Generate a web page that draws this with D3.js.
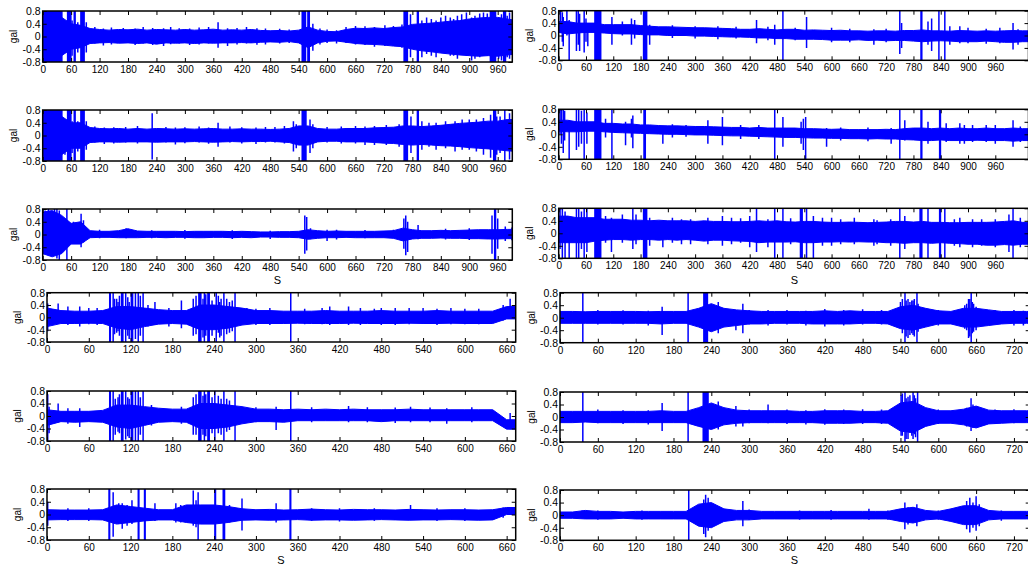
<!DOCTYPE html>
<html><head><meta charset="utf-8">
<script src="https://cdn.jsdelivr.net/npm/d3@7"></script>
<style>body{margin:0;background:#fff}svg{display:block}text{font-family:"Liberation Sans",Arial,sans-serif}</style>
</head><body><svg id="c" width="1028" height="567"></svg>
<script>
// ---- data: envelopes sampled every 20 s (upper/lower, gal), spikes [t,hi,lo], saturated bursts [t0,t1,hi,lo]
const STEP = 20;
const xTicksLong = [0,60,120,180,240,300,360,420,480,540,600,660,720,780,840,900,960];
const xTicks660 = [0,60,120,180,240,300,360,420,480,540,600,660];
const xTicks720 = [0,60,120,180,240,300,360,420,480,540,600,660,720];
const yTicks = [-0.8,-0.4,0,0.4,0.8];
const yLabels = ["-0.8","-0.4","0","0.4","0.8"];

// row 1 left
const A_up = [0.6,0.7,0.6,0.4,0.35,0.25,0.22,0.2,0.22,0.21,0.23,0.2,0.22,0.21,0.2,0.22,0.2,0.21,0.23,0.2,0.21,0.2,0.22,0.19,0.18,0.19,0.17,0.2,0.3,0.2,0.16,0.15,0.22,0.26,0.25,0.27,0.25,0.28,0.3,0.38,0.4,0.42,0.45,0.48,0.5,0.55,0.58,0.6,0.6,0.55,0.5];
const A_lo = [-0.6,-0.7,-0.6,-0.4,-0.35,-0.22,-0.2,-0.19,-0.21,-0.2,-0.22,-0.2,-0.24,-0.2,-0.21,-0.2,-0.22,-0.2,-0.21,-0.2,-0.2,-0.19,-0.2,-0.18,-0.17,-0.18,-0.16,-0.2,-0.35,-0.2,-0.15,-0.14,-0.18,-0.22,-0.24,-0.25,-0.27,-0.3,-0.32,-0.4,-0.45,-0.48,-0.52,-0.55,-0.58,-0.6,-0.62,-0.6,-0.62,-0.58,-0.55];
const A_blk = [[0,42,0.8,-0.8],[51,61,0.8,-0.8],[65,70,0.8,-0.8],[79,89,0.8,-0.8],[546,556,0.8,-0.8],[558,564,0.8,-0.8],[761,771,0.8,-0.8],[789,794,0.8,-0.8],[943,957,0.8,-0.8],[971,978,0.8,-0.8]];
const A_spk = [[47,0.45,-0.5],[62,0.5,-0.6],[74,0.45,-0.5],[92,0.45,-0.5],[110,0.3,-0.22],[128,0.25,-0.28],[145,0.28,-0.25],[170,0.27,-0.2],[195,0.25,-0.27],[212,0.3,-0.22],[232,0.27,-0.27],[255,0.26,-0.3],[270,0.3,-0.24],[288,0.26,-0.22],[310,0.25,-0.27],[330,0.28,-0.25],[350,0.3,-0.22],[370,0.45,-0.35],[390,0.26,-0.3],[410,0.27,-0.25],[430,0.3,-0.22],[452,0.26,-0.26],[470,0.25,-0.25],[500,0.24,-0.22],[520,0.22,-0.2],[570,0.4,-0.45],[585,0.25,-0.25],[600,0.22,-0.2],[620,0.2,-0.22],[640,0.3,-0.2],[660,0.33,-0.25],[680,0.32,-0.27],[700,0.3,-0.32],[722,0.35,-0.3],[740,0.33,-0.3],[758,0.38,-0.35],[776,0.7,-0.65],[800,0.5,-0.65],[810,0.6,-0.55],[820,0.55,-0.6],[830,0.5,-0.65],[840,0.6,-0.5],[850,0.65,-0.55],[860,0.6,-0.6],[867,0.55,-0.6],[875,0.65,-0.7],[884,0.7,-0.55],[894,0.75,-0.6],[905,0.6,-0.75],[912,0.65,-0.7],[922,0.72,-0.65],[930,0.75,-0.55],[938,0.72,-0.6],[962,0.6,-0.7],[968,0.7,-0.75],[980,0.65,-0.65],[985,0.75,-0.7]];

// row 2 left
const C_up = [0.6,0.7,0.6,0.4,0.4,0.25,0.22,0.21,0.22,0.2,0.22,0.2,0.22,0.21,0.2,0.21,0.2,0.21,0.22,0.2,0.2,0.21,0.2,0.2,0.19,0.2,0.22,0.3,0.3,0.22,0.2,0.2,0.22,0.22,0.22,0.24,0.25,0.26,0.3,0.3,0.28,0.3,0.32,0.35,0.38,0.4,0.42,0.45,0.45,0.5,0.5];
const C_lo = [-0.6,-0.7,-0.6,-0.4,-0.4,-0.22,-0.2,-0.2,-0.21,-0.2,-0.2,-0.2,-0.21,-0.2,-0.2,-0.2,-0.19,-0.2,-0.21,-0.2,-0.19,-0.2,-0.19,-0.19,-0.18,-0.2,-0.22,-0.3,-0.3,-0.2,-0.18,-0.18,-0.2,-0.2,-0.2,-0.22,-0.24,-0.25,-0.28,-0.3,-0.28,-0.3,-0.32,-0.33,-0.35,-0.38,-0.4,-0.42,-0.45,-0.48,-0.5];
const C_blk = [[0,42,0.8,-0.8],[51,61,0.8,-0.8],[65,70,0.8,-0.8],[79,89,0.8,-0.8],[546,557,0.8,-0.8],[761,771,0.8,-0.8],[789,794,0.8,-0.8],[950,957,0.8,-0.8]];
const C_spk = [[47,0.5,-0.6],[62,0.45,-0.55],[74,0.45,-0.5],[92,0.45,-0.45],[110,0.28,-0.22],[130,0.25,-0.27],[150,0.26,-0.25],[175,0.27,-0.22],[200,0.3,-0.25],[231,0.7,-0.75],[260,0.27,-0.22],[280,0.25,-0.28],[300,0.26,-0.24],[330,0.28,-0.22],[350,0.25,-0.26],[370,0.4,-0.35],[395,0.28,-0.22],[420,0.26,-0.25],[450,0.25,-0.27],[470,0.27,-0.22],[490,0.27,-0.22],[510,0.3,-0.25],[529,0.45,-0.5],[535,0.35,-0.4],[564,0.5,-0.55],[570,0.35,-0.4],[600,0.27,-0.22],[630,0.28,-0.25],[660,0.3,-0.25],[680,0.28,-0.3],[700,0.3,-0.3],[725,0.33,-0.3],[752,0.35,-0.35],[777,0.6,-0.55],[800,0.45,-0.45],[815,0.4,-0.35],[830,0.4,-0.45],[850,0.45,-0.4],[870,0.45,-0.5],[885,0.5,-0.45],[900,0.5,-0.45],[915,0.5,-0.5],[930,0.55,-0.6],[945,0.65,-0.7],[958,0.6,-0.6],[965,0.6,-0.55],[975,0.8,-0.8],[985,0.7,-0.75]];

// row 3 left
const E_up = [0.7,0.75,0.6,0.35,0.4,0.12,0.1,0.1,0.12,0.18,0.11,0.1,0.1,0.1,0.1,0.09,0.1,0.1,0.1,0.1,0.09,0.1,0.09,0.08,0.08,0.09,0.09,0.1,0.15,0.12,0.1,0.11,0.1,0.1,0.1,0.1,0.11,0.12,0.2,0.15,0.12,0.12,0.13,0.12,0.13,0.14,0.15,0.15,0.15,0.16,0.16];
const E_lo = [-0.6,-0.7,-0.6,-0.3,-0.3,-0.1,-0.09,-0.09,-0.1,-0.1,-0.1,-0.09,-0.09,-0.1,-0.09,-0.09,-0.1,-0.1,-0.09,-0.09,-0.1,-0.09,-0.1,-0.08,-0.08,-0.09,-0.09,-0.1,-0.15,-0.12,-0.1,-0.1,-0.09,-0.1,-0.1,-0.1,-0.1,-0.12,-0.2,-0.14,-0.12,-0.12,-0.11,-0.12,-0.12,-0.13,-0.13,-0.14,-0.14,-0.13,-0.13];
const E_blk = [[952,957,0.8,-0.8]];
const E_spk = [[5,0.75,-0.55],[12,0.8,-0.65],[18,0.7,-0.5],[25,0.8,-0.65],[30,0.8,-0.75],[35,0.75,-0.8],[40,0.4,-0.4],[51,0.8,-0.8],[65,0.4,-0.3],[81,0.65,-0.4],[86,0.45,-0.25],[120,0.15,-0.12],[176,0.2,-0.12],[230,0.13,-0.12],[300,0.14,-0.13],[400,0.13,-0.14],[480,0.12,-0.14],[553,0.6,-0.6],[557,0.55,-0.5],[565,0.2,-0.15],[600,0.15,-0.2],[620,0.15,-0.16],[680,0.14,-0.12],[740,0.15,-0.12],[762,0.5,-0.45],[766,0.6,-0.65],[770,0.4,-0.55],[792,0.3,-0.15],[850,0.18,-0.16],[900,0.2,-0.17],[948,0.6,-0.6],[960,0.5,-0.45],[976,0.25,-0.2],[990,0.22,-0.18]];

// row 1 right
const B_up = [0.45,0.45,0.4,0.4,0.4,0.35,0.35,0.35,0.35,0.32,0.3,0.28,0.28,0.27,0.26,0.25,0.25,0.24,0.23,0.22,0.2,0.2,0.22,0.2,0.18,0.2,0.2,0.17,0.18,0.17,0.16,0.17,0.15,0.15,0.14,0.15,0.15,0.14,0.16,0.16,0.18,0.15,0.15,0.14,0.16,0.15,0.14,0.15,0.14,0.15,0.16,0.15,0.15];
const B_lo = [0.1,0.05,0.08,0.1,0.1,0.08,0.06,0.05,0.05,0.03,0.02,0.02,0.0,0.0,0.0,-0.02,-0.02,-0.03,-0.04,-0.05,-0.05,-0.06,-0.08,-0.08,-0.1,-0.1,-0.12,-0.12,-0.12,-0.13,-0.15,-0.15,-0.15,-0.14,-0.16,-0.15,-0.17,-0.16,-0.16,-0.18,-0.2,-0.18,-0.17,-0.18,-0.2,-0.2,-0.2,-0.18,-0.2,-0.22,-0.22,-0.2,-0.2];
const B_blk = [[78,94,0.8,-0.8],[185,195,0.8,-0.8],[795,800,0.8,-0.8]];
const B_spk = [[4,0.8,0.1],[8,0.75,-0.2],[10,0.6,-0.35],[18,0.8,0.0],[23,0.5,-0.8],[39,0.8,-0.5],[43,0.8,-0.3],[46,0.7,-0.5],[56,0.8,-0.55],[60,0.55,-0.2],[64,0.35,-0.35],[117,0.6,-0.3],[140,0.45,0.0],[160,0.55,-0.3],[167,0.5,-0.1],[200,0.35,-0.3],[250,0.33,-0.08],[300,0.3,-0.1],[350,0.3,-0.12],[390,0.28,-0.1],[435,0.5,-0.25],[460,0.28,-0.15],[475,0.35,-0.3],[493,0.8,-0.8],[520,0.25,-0.15],[545,0.6,-0.4],[600,0.25,-0.22],[640,0.22,-0.22],[693,0.2,-0.3],[720,0.22,-0.22],[750,0.8,-0.6],[754,0.4,-0.4],[812,0.45,-0.3],[820,0.55,-0.5],[836,0.8,-0.8],[849,0.8,-0.8],[860,0.3,-0.3],[882,0.3,-0.25],[900,0.25,-0.25],[940,0.22,-0.27],[970,0.25,-0.25],[999,0.4,-0.45],[1010,0.2,-0.3]];

// row 2 right
const D_up = [0.45,0.45,0.4,0.4,0.4,0.35,0.35,0.33,0.33,0.3,0.3,0.28,0.27,0.27,0.26,0.25,0.25,0.24,0.23,0.22,0.22,0.2,0.22,0.2,0.2,0.2,0.2,0.18,0.18,0.17,0.16,0.17,0.15,0.15,0.15,0.15,0.16,0.15,0.18,0.2,0.2,0.18,0.2,0.18,0.2,0.18,0.18,0.2,0.18,0.18,0.2,0.18,0.18];
const D_lo = [0.1,0.08,0.08,0.1,0.1,0.08,0.06,0.05,0.04,0.03,0.02,0.01,0.0,0.0,-0.01,-0.02,-0.02,-0.03,-0.04,-0.05,-0.05,-0.06,-0.07,-0.08,-0.09,-0.1,-0.1,-0.11,-0.12,-0.12,-0.13,-0.13,-0.14,-0.14,-0.15,-0.14,-0.15,-0.15,-0.17,-0.18,-0.2,-0.2,-0.18,-0.2,-0.2,-0.2,-0.19,-0.2,-0.2,-0.2,-0.22,-0.2,-0.2];
const D_blk = [[78,94,0.8,-0.8],[186,192,0.8,-0.8],[795,800,0.8,-0.8],[836,841,0.8,-0.8]];
const D_spk = [[3,0.8,0.0],[6,0.8,-0.3],[10,0.8,-0.6],[13,0.75,-0.2],[23,0.45,-0.8],[39,0.8,-0.5],[44,0.8,-0.4],[50,0.75,-0.3],[56,0.8,-0.8],[62,0.7,-0.3],[103,0.5,-0.1],[117,0.8,-0.8],[147,0.4,-0.35],[160,0.5,-0.1],[163,0.6,-0.45],[189,0.8,-0.8],[229,0.2,-0.3],[250,0.32,-0.1],[280,0.3,-0.08],[328,0.45,-0.3],[360,0.55,-0.35],[400,0.3,-0.15],[440,0.3,-0.15],[475,0.8,-0.8],[493,0.55,-0.4],[533,0.4,-0.3],[538,0.5,-0.5],[543,0.55,-0.8],[589,0.2,-0.4],[620,0.22,-0.2],[680,0.22,-0.22],[731,0.2,-0.3],[750,0.8,-0.8],[761,0.45,-0.2],[812,0.4,-0.3],[852,0.35,-0.25],[882,0.35,-0.3],[892,0.3,-0.3],[910,0.3,-0.25],[940,0.3,-0.25],[960,0.3,-0.3],[999,0.45,-0.4],[1015,0.25,-0.25]];

// row 3 right
const F_up = [0.55,0.55,0.5,0.5,0.5,0.45,0.45,0.45,0.42,0.42,0.4,0.42,0.4,0.4,0.4,0.38,0.4,0.38,0.38,0.37,0.37,0.38,0.4,0.38,0.4,0.37,0.36,0.38,0.38,0.36,0.35,0.35,0.36,0.35,0.34,0.35,0.36,0.38,0.38,0.36,0.38,0.35,0.35,0.34,0.34,0.35,0.35,0.35,0.36,0.38,0.4,0.35,0.35];
const F_lo = [-0.3,-0.3,-0.3,-0.3,-0.25,-0.22,-0.2,-0.2,-0.22,-0.2,-0.2,-0.22,-0.2,-0.22,-0.2,-0.22,-0.25,-0.22,-0.22,-0.24,-0.25,-0.26,-0.3,-0.28,-0.28,-0.28,-0.27,-0.3,-0.3,-0.28,-0.28,-0.27,-0.28,-0.27,-0.28,-0.28,-0.3,-0.3,-0.32,-0.3,-0.3,-0.32,-0.3,-0.32,-0.33,-0.35,-0.35,-0.38,-0.38,-0.36,-0.38,-0.35,-0.35];
const F_blk = [[78,94,0.8,-0.8],[185,195,0.8,-0.8],[530,537,0.8,-0.8],[793,800,0.8,-0.8],[836,841,0.8,-0.8]];
const F_spk = [[3,0.8,-0.5],[8,0.8,-0.8],[14,0.7,-0.8],[23,0.5,-0.8],[39,0.8,-0.8],[44,0.8,-0.8],[50,0.7,-0.5],[56,0.8,-0.8],[62,0.8,-0.6],[103,0.55,-0.3],[116,0.5,-0.6],[140,0.6,-0.3],[163,0.8,-0.5],[170,0.6,-0.35],[200,0.5,-0.4],[229,0.4,-0.45],[250,0.5,-0.3],[270,0.45,-0.35],[290,0.45,-0.35],[328,0.5,-0.35],[360,0.55,-0.4],[380,0.5,-0.35],[400,0.48,-0.3],[420,0.55,-0.45],[435,0.8,-0.6],[460,0.45,-0.45],[475,0.8,-0.8],[493,0.8,-0.8],[510,0.48,-0.35],[545,0.8,-0.8],[560,0.55,-0.8],[580,0.5,-0.4],[600,0.5,-0.4],[620,0.45,-0.35],[650,0.5,-0.35],[693,0.45,-0.4],[700,0.42,-0.35],[730,0.45,-0.4],[750,0.8,-0.8],[761,0.55,-0.5],[812,0.8,-0.8],[849,0.8,-0.8],[870,0.45,-0.4],[882,0.5,-0.45],[910,0.45,-0.45],[930,0.45,-0.4],[960,0.45,-0.45],[990,0.6,-0.6],[999,0.8,-0.8],[1015,0.5,-0.45]];

// row 4 left
const G_up = [0.3,0.22,0.2,0.2,0.22,0.35,0.35,0.3,0.25,0.22,0.22,0.4,0.4,0.35,0.3,0.22,0.22,0.2,0.2,0.2,0.22,0.2,0.2,0.2,0.22,0.2,0.2,0.2,0.22,0.2,0.2,0.2,0.2,0.35,0.35];
const G_lo = [-0.3,-0.2,-0.2,-0.19,-0.2,-0.35,-0.4,-0.3,-0.22,-0.2,-0.22,-0.4,-0.4,-0.35,-0.25,-0.2,-0.2,-0.2,-0.19,-0.2,-0.2,-0.2,-0.19,-0.2,-0.2,-0.2,-0.19,-0.2,-0.2,-0.19,-0.2,-0.2,-0.2,-0.05,-0.05];
const G_blk = [[89,92,0.8,-0.8],[106,110,0.8,-0.8],[120,124,0.8,-0.8],[217,222,0.8,-0.8],[230,234,0.8,-0.8]];
const G_spk = [[1,0.45,-0.45],[16,0.45,-0.2],[30,0.35,-0.25],[47,0.35,-0.3],[60,0.3,-0.22],[72,0.3,-0.25],[95,0.8,-0.8],[97,0.6,-0.55],[100,0.6,-0.5],[102,0.5,-0.45],[104,0.7,-0.6],[113,0.8,-0.8],[116,0.65,-0.6],[118,0.5,-0.7],[127,0.8,-0.7],[131,0.8,-0.8],[134,0.7,-0.6],[138,0.8,-0.8],[145,0.4,-0.3],[155,0.5,-0.25],[175,0.3,-0.3],[193,0.55,-0.35],[210,0.6,-0.6],[214,0.7,-0.55],[224,0.6,-0.65],[226,0.8,-0.8],[228,0.75,-0.6],[237,0.55,-0.6],[243,0.8,-0.8],[246,0.7,-0.5],[248,0.5,-0.65],[250,0.6,-0.6],[254,0.8,-0.8],[258,0.6,-0.55],[262,0.5,-0.5],[266,0.55,-0.45],[270,0.8,-0.8],[287,0.3,-0.2],[300,0.28,-0.25],[320,0.3,-0.25],[350,0.8,-0.8],[370,0.28,-0.22],[395,0.3,-0.22],[406,0.35,-0.25],[433,0.35,-0.25],[450,0.3,-0.25],[470,0.28,-0.2],[480,0.3,-0.25],[500,0.3,-0.25],[520,0.3,-0.22],[540,0.3,-0.2],[560,0.28,-0.25],[580,0.3,-0.22],[600,0.28,-0.22],[620,0.28,-0.22],[655,0.4,-0.1],[665,0.6,-0.05]];

// row 5 left
const H_up = [0.2,0.15,0.15,0.15,0.18,0.35,0.35,0.3,0.25,0.22,0.22,0.4,0.4,0.35,0.3,0.22,0.22,0.2,0.22,0.2,0.22,0.2,0.22,0.2,0.2,0.2,0.22,0.2,0.2,0.2,0.2,0.2,0.2,-0.12,-0.12];
const H_lo = [-0.3,-0.18,-0.2,-0.18,-0.2,-0.35,-0.4,-0.3,-0.2,-0.18,-0.2,-0.4,-0.4,-0.35,-0.25,-0.18,-0.18,-0.2,-0.15,-0.15,-0.15,-0.15,-0.15,-0.15,-0.18,-0.15,-0.15,-0.15,-0.15,-0.15,-0.15,-0.15,-0.15,-0.42,-0.42];
const H_blk = [[89,92,0.8,-0.8],[106,110,0.8,-0.8],[120,124,0.8,-0.8],[217,222,0.8,-0.8],[230,234,0.8,-0.8]];
const H_spk = [[1,0.7,-0.8],[3,0.3,-0.55],[16,0.4,-0.2],[30,0.25,-0.25],[47,0.25,-0.35],[95,0.8,-0.8],[98,0.55,-0.6],[102,0.6,-0.5],[104,0.7,-0.55],[113,0.8,-0.75],[116,0.6,-0.65],[118,0.55,-0.7],[127,0.8,-0.8],[131,0.8,-0.8],[134,0.6,-0.6],[138,0.8,-0.8],[150,0.35,-0.3],[193,0.3,-0.25],[210,0.6,-0.6],[214,0.7,-0.6],[224,0.65,-0.6],[226,0.8,-0.8],[228,0.7,-0.65],[237,0.6,-0.55],[241,0.8,-0.8],[246,0.65,-0.55],[250,0.55,-0.6],[254,0.8,-0.8],[258,0.55,-0.5],[262,0.5,-0.45],[270,0.8,-0.8],[300,0.28,-0.2],[329,0.3,-0.45],[350,0.8,-0.8],[380,0.28,-0.2],[433,0.32,-0.2],[460,0.28,-0.2],[500,0.27,-0.22],[522,0.3,-0.2],[550,0.27,-0.2],[574,0.25,-0.25],[610,0.28,-0.2],[665,0.1,-0.42]];

// row 6 left
const I_up = [0.15,0.14,0.14,0.14,0.15,0.3,0.25,0.2,0.15,0.15,0.3,0.3,0.3,0.25,0.18,0.15,0.16,0.14,0.15,0.17,0.15,0.14,0.16,0.15,0.15,0.14,0.16,0.15,0.14,0.15,0.15,0.14,0.15,0.22,0.22];
const I_lo = [-0.17,-0.16,-0.16,-0.16,-0.17,-0.3,-0.25,-0.2,-0.17,-0.17,-0.25,-0.3,-0.3,-0.25,-0.18,-0.17,-0.18,-0.17,-0.16,-0.18,-0.17,-0.17,-0.18,-0.17,-0.16,-0.17,-0.18,-0.17,-0.17,-0.16,-0.17,-0.18,-0.17,0.0,0.0];
const I_blk = [[88,91,0.8,-0.8],[130,133,0.8,-0.8],[139,142,0.8,-0.8],[240,243,0.8,-0.8],[252,256,0.8,-0.8],[348,351,0.8,-0.8]];
const I_spk = [[1,0.4,-0.35],[30,0.2,-0.2],[60,0.2,-0.2],[95,0.7,-0.7],[103,0.35,-0.3],[108,0.35,-0.45],[115,0.3,-0.35],[122,0.45,-0.3],[155,0.35,-0.2],[185,0.35,-0.25],[192,0.3,-0.25],[210,0.75,-0.35],[214,0.45,-0.4],[217,0.7,-0.8],[230,0.3,-0.3],[262,0.3,-0.25],[280,0.5,-0.5],[329,0.35,-0.25],[380,0.2,-0.2],[420,0.2,-0.22],[470,0.2,-0.2],[522,0.3,-0.15],[560,0.2,-0.2],[600,0.2,-0.2],[655,0.22,-0.1]];

// row 4 right
const J_up = [0.2,0.2,0.19,0.2,0.2,0.2,0.2,0.19,0.2,0.2,0.2,0.3,0.45,0.3,0.25,0.22,0.2,0.2,0.2,0.2,0.2,0.22,0.2,0.22,0.2,0.2,0.2,0.35,0.4,0.3,0.22,0.2,0.3,0.3,0.25,0.2,0.2,0.2,0.2];
const J_lo = [-0.18,-0.18,-0.18,-0.18,-0.18,-0.18,-0.18,-0.18,-0.2,-0.18,-0.18,-0.3,-0.45,-0.3,-0.25,-0.2,-0.2,-0.18,-0.18,-0.18,-0.2,-0.2,-0.2,-0.2,-0.18,-0.18,-0.2,-0.35,-0.4,-0.3,-0.2,-0.2,-0.3,-0.3,-0.25,-0.2,-0.18,-0.18,-0.18];
const J_blk = [[35,37,0.8,-0.8],[202,204,0.8,-0.8],[227,235,0.8,-0.8],[546,548,0.8,-0.8],[565,567,0.8,-0.8],[651,653,0.8,-0.8]];
const J_spk = [[60,0.25,-0.22],[100,0.24,-0.22],[140,0.22,-0.25],[162,0.35,-0.55],[251,0.5,-0.5],[279,0.25,-0.4],[290,0.45,-0.5],[300,0.25,-0.22],[330,0.25,-0.25],[360,0.25,-0.22],[390,0.22,-0.25],[420,0.28,-0.28],[450,0.25,-0.25],[480,0.27,-0.22],[510,0.25,-0.22],[540,0.5,-0.3],[543,0.6,-0.5],[549,0.55,-0.6],[552,0.6,-0.65],[555,0.5,-0.55],[558,0.55,-0.5],[560,0.55,-0.55],[562,0.6,-0.6],[568,0.45,-0.45],[570,0.35,-0.3],[600,0.25,-0.25],[642,0.4,-0.35],[645,0.45,-0.4],[648,0.6,-0.65],[650,0.6,-0.6],[654,0.5,-0.5],[656,0.45,-0.45],[660,0.35,-0.4],[690,0.25,-0.22],[720,0.25,-0.25],[735,0.22,-0.25]];

// row 5 right
const K_up = [0.18,0.18,0.18,0.18,0.18,0.18,0.18,0.18,0.2,0.18,0.18,0.3,0.45,0.3,0.22,0.2,0.2,0.2,0.2,0.18,0.18,0.2,0.2,0.2,0.18,0.18,0.2,0.45,0.5,0.3,0.2,0.2,0.25,0.35,0.22,0.2,0.2,0.2,0.2];
const K_lo = [-0.18,-0.18,-0.16,-0.18,-0.18,-0.18,-0.18,-0.18,-0.18,-0.18,-0.18,-0.3,-0.4,-0.25,-0.2,-0.18,-0.18,-0.18,-0.18,-0.18,-0.18,-0.2,-0.2,-0.2,-0.18,-0.18,-0.2,-0.45,-0.5,-0.3,-0.2,-0.2,-0.25,-0.35,-0.22,-0.2,-0.18,-0.18,-0.18];
const K_blk = [[35,37,0.8,-0.8],[202,204,0.8,-0.8],[226,236,0.8,-0.8],[546,548,0.8,-0.8],[566,568,0.8,-0.8]];
const K_spk = [[60,0.24,-0.2],[100,0.22,-0.22],[140,0.22,-0.24],[162,0.45,-0.45],[251,0.5,-0.4],[279,0.35,-0.3],[290,0.2,-0.3],[300,0.24,-0.2],[330,0.4,-0.2],[360,0.24,-0.22],[390,0.22,-0.24],[420,0.25,-0.25],[450,0.24,-0.22],[480,0.25,-0.22],[510,0.24,-0.22],[541,0.7,-0.6],[543,0.75,-0.6],[549,0.6,-0.7],[552,0.65,-0.7],[555,0.7,-0.5],[558,0.5,-0.6],[560,0.8,-0.7],[562,0.7,-0.55],[564,0.6,-0.65],[572,0.35,-0.3],[600,0.24,-0.22],[645,0.3,-0.3],[652,0.6,-0.45],[655,0.4,-0.35],[660,0.3,-0.3],[690,0.24,-0.22],[720,0.25,-0.2]];

// row 6 right
const L_up = [0.1,0.1,0.15,0.12,0.12,0.1,0.12,0.12,0.12,0.12,0.12,0.35,0.4,0.2,0.15,0.15,0.12,0.12,0.12,0.12,0.12,0.12,0.12,0.12,0.12,0.12,0.12,0.2,0.25,0.15,0.12,0.2,0.3,0.3,0.15,0.12,0.12,0.12,0.12];
const L_lo = [-0.1,-0.1,-0.12,-0.12,-0.12,-0.1,-0.12,-0.12,-0.12,-0.12,-0.12,-0.35,-0.4,-0.2,-0.15,-0.15,-0.12,-0.12,-0.12,-0.12,-0.12,-0.12,-0.12,-0.12,-0.12,-0.12,-0.12,-0.2,-0.25,-0.15,-0.12,-0.2,-0.3,-0.3,-0.15,-0.12,-0.12,-0.12,-0.12];
const L_blk = [[203,205,0.8,-0.8]];
const L_spk = [[35,0.15,-0.1],[60,0.15,-0.15],[130,0.15,-0.15],[228,0.5,-0.6],[231,0.65,-0.7],[235,0.55,-0.5],[290,0.45,-0.35],[300,0.18,-0.15],[380,0.15,-0.15],[430,0.16,-0.15],[490,0.2,-0.15],[520,0.15,-0.15],[547,0.4,-0.45],[552,0.25,-0.3],[566,0.35,-0.35],[600,0.15,-0.15],[645,0.45,-0.45],[650,0.55,-0.55],[655,0.4,-0.4],[660,0.6,-0.5],[665,0.35,-0.35],[700,0.15,-0.18]];

// ---- layout
const LT = {x0:42.7, x1:512.3, dom:990.8, ticks:xTicksLong, gal:13.5};
const RT = {x0:558.7, x1:1028.5, dom:1033, ticks:xTicksLong, gal:529};
const LB = {x0:47, x1:515.7, dom:673, ticks:xTicks660, gal:17};
const RB = {x0:560, x1:1029.7, dom:745, ticks:xTicks720, gal:531.5};

const panels = [
  {c:LT, y0:11,    y1:62,    up:A_up, lo:A_lo, blk:A_blk, spk:A_spk},
  {c:LT, y0:110,   y1:161,   up:C_up, lo:C_lo, blk:C_blk, spk:C_spk},
  {c:LT, y0:209,   y1:260,   up:E_up, lo:E_lo, blk:E_blk, spk:E_spk, S:[277.5,284]},
  {c:RT, y0:10.7,  y1:60.3,  up:B_up, lo:B_lo, blk:B_blk, spk:B_spk},
  {c:RT, y0:109.3, y1:159.3, up:D_up, lo:D_lo, blk:D_blk, spk:D_spk},
  {c:RT, y0:208.3, y1:258.3, up:F_up, lo:F_lo, blk:F_blk, spk:F_spk, S:[794.5,284]},
  {c:LB, y0:292.7, y1:342,   up:G_up, lo:G_lo, blk:G_blk, spk:G_spk},
  {c:LB, y0:391,   y1:441,   up:H_up, lo:H_lo, blk:H_blk, spk:H_spk},
  {c:LB, y0:489,   y1:540,   up:I_up, lo:I_lo, blk:I_blk, spk:I_spk, S:[281,564]},
  {c:RB, y0:292.7, y1:342.7, up:J_up, lo:J_lo, blk:J_blk, spk:J_spk},
  {c:RB, y0:392,   y1:442,   up:K_up, lo:K_lo, blk:K_blk, spk:K_spk},
  {c:RB, y0:490,   y1:540.3, up:L_up, lo:L_lo, blk:L_blk, spk:L_spk, S:[794.5,564]}
];

const BLUE = "#0000ff";
const svg = d3.select("#c");
const defs = svg.append("defs");

panels.forEach((p, k) => {
  const {x0, x1, dom, ticks, gal} = p.c;
  const y0 = p.y0, y1 = p.y1;
  const x = d3.scaleLinear().domain([0, dom]).range([x0, x1]);
  const y = d3.scaleLinear().domain([-0.8, 0.8]).range([y1, y0]);
  const cid = "clip" + k;
  defs.append("clipPath").attr("id", cid).append("rect")
    .attr("x", x0).attr("y", y0).attr("width", x1 - x0).attr("height", y1 - y0);

  const g = svg.append("g");
  const pg = g.append("g").attr("clip-path", `url(#${cid})`);
  const n = Math.min(p.up.length, p.lo.length);
  const env = d3.range(n).map(i => ({t: i * STEP, u: p.up[i], l: p.lo[i]}));
  pg.append("path").datum(env)
    .attr("d", d3.area().x(d => x(d.t)).y0(d => y(d.l)).y1(d => y(d.u)))
    .attr("fill", BLUE).attr("stroke", BLUE).attr("stroke-width", 1);
  pg.selectAll("rect").data(p.blk).join("rect")
    .attr("x", d => x(d[0])).attr("width", d => Math.max(1.5, x(d[1]) - x(d[0])))
    .attr("y", d => y(d[2])).attr("height", d => y(d[3]) - y(d[2]))
    .attr("fill", BLUE);
  pg.selectAll("line").data(p.spk).join("line")
    .attr("x1", d => x(d[0])).attr("x2", d => x(d[0]))
    .attr("y1", d => y(d[1])).attr("y2", d => y(d[2]))
    .attr("stroke", BLUE).attr("stroke-width", 1.5);

  const ab = g.append("g").attr("transform", `translate(0,${y1})`)
    .call(d3.axisBottom(x).tickValues(ticks).tickSize(-4).tickSizeOuter(0).tickPadding(4).tickFormat(d3.format("d")));
  const at = g.append("g").attr("transform", `translate(0,${y0})`)
    .call(d3.axisTop(x).tickValues(ticks).tickSize(-4).tickSizeOuter(0).tickFormat(""));
  const al = g.append("g").attr("transform", `translate(${x0},0)`)
    .call(d3.axisLeft(y).tickValues(yTicks).tickSize(-4).tickSizeOuter(0).tickPadding(2)
      .tickFormat(d => yLabels[yTicks.indexOf(d)]));
  const ar = g.append("g").attr("transform", `translate(${x1},0)`)
    .call(d3.axisRight(y).tickValues(yTicks).tickSize(-4).tickSizeOuter(0).tickFormat(""));
  [ab, at, al, ar].forEach(a => {
    a.select(".domain").remove();
    a.selectAll("line").attr("stroke", "#000").attr("stroke-width", 1);
    a.selectAll("text").attr("fill", "#000")
      .style("font-family", '"Liberation Sans", Arial, sans-serif');
  });
  ab.selectAll("text").style("font-size", "10px");
  al.selectAll("text").style("font-size", "10.5px");
  g.append("rect").attr("x", x0).attr("y", y0).attr("width", x1 - x0).attr("height", y1 - y0)
    .attr("fill", "none").attr("stroke", "#000").attr("stroke-width", 1.5);

  g.append("text").attr("transform", `translate(${gal},${(y0 + y1) / 2}) rotate(-90)`)
    .attr("text-anchor", "middle").attr("dy", "0.35em").style("font-size", "10px").text("gal");
  if (p.S) {
    g.append("text").attr("x", p.S[0]).attr("y", p.S[1]).attr("text-anchor", "middle")
      .style("font-size", "11px").text("S");
  }
});
</script></body></html>
